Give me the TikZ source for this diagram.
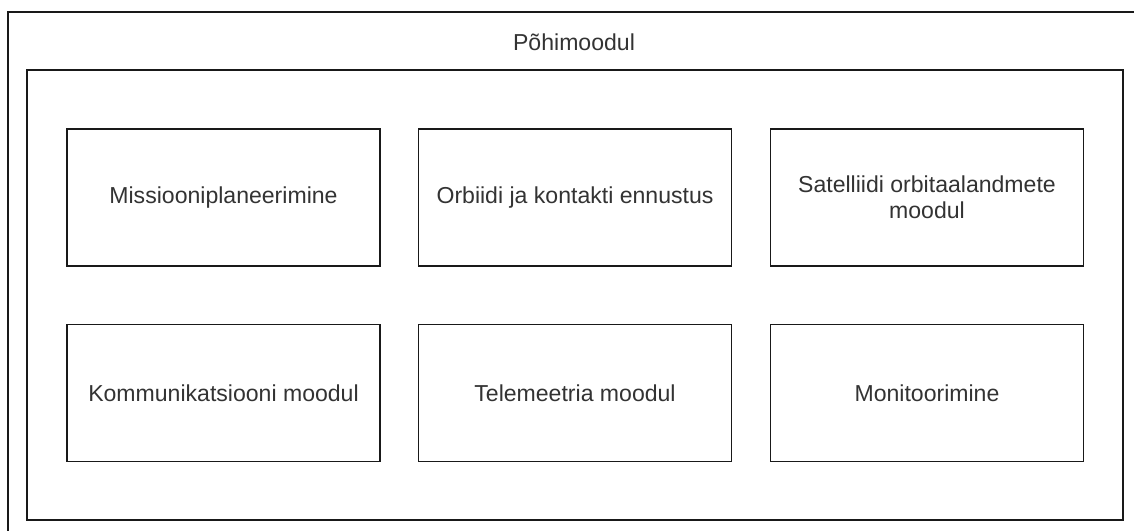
\documentclass[tikz,border=0pt]{standalone}
\usepackage{fontspec}
\setmainfont{Liberation Sans}
\usepackage{tikz}
\usetikzlibrary{positioning}

\begin{document}
\begin{tikzpicture}[
  x=0.025cm, y=-0.025cm,
  frame/.style={draw=black!90, line width=1.1pt, fill=none, inner sep=0pt},
  modbox/.style={draw=black!90, line width=1.1pt, fill=white, align=center,
                 minimum width=7.825cm, minimum height=3.425cm, inner sep=0pt,
                 font=\fontsize{16.4}{18.5}\selectfont, text=black!80},
  ttl/.style={font=\fontsize{16.4}{18.5}\selectfont, text=black!80, inner sep=0pt}
]
  \clip (0,0) rectangle (1134,531);

  % ========== OUTER: main module ==========
  \node[frame, minimum width=28.3cm, minimum height=13.2cm] (outer) at (574, 276) {};
  \node[ttl] (title) at (574, 42) {Põhimoodul};

  % ========== INNER FRAME ==========
  \node[frame, minimum width=27.4cm, minimum height=11.25cm] (inner) at (575, 295) {};

  % ========== ROW 1 ==========
  \node[modbox] (plan)  at (223.5, 197.5) {Missiooniplaneerimine};
  \node[modbox] (orbit) at (575, 197.5)   {Orbiidi ja kontakti ennustus};
  \node[modbox] (sat)   at (927, 197.5)   {Satelliidi orbitaalandmete\\moodul};

  % ========== ROW 2 ==========
  \node[modbox] (comm)  at (223.5, 393)   {Kommunikatsiooni moodul};
  \node[modbox] (tele)  at (575, 393)     {Telemeetria moodul};
  \node[modbox] (mon)   at (927, 393)     {Monitoorimine};

\end{tikzpicture}
\end{document}
